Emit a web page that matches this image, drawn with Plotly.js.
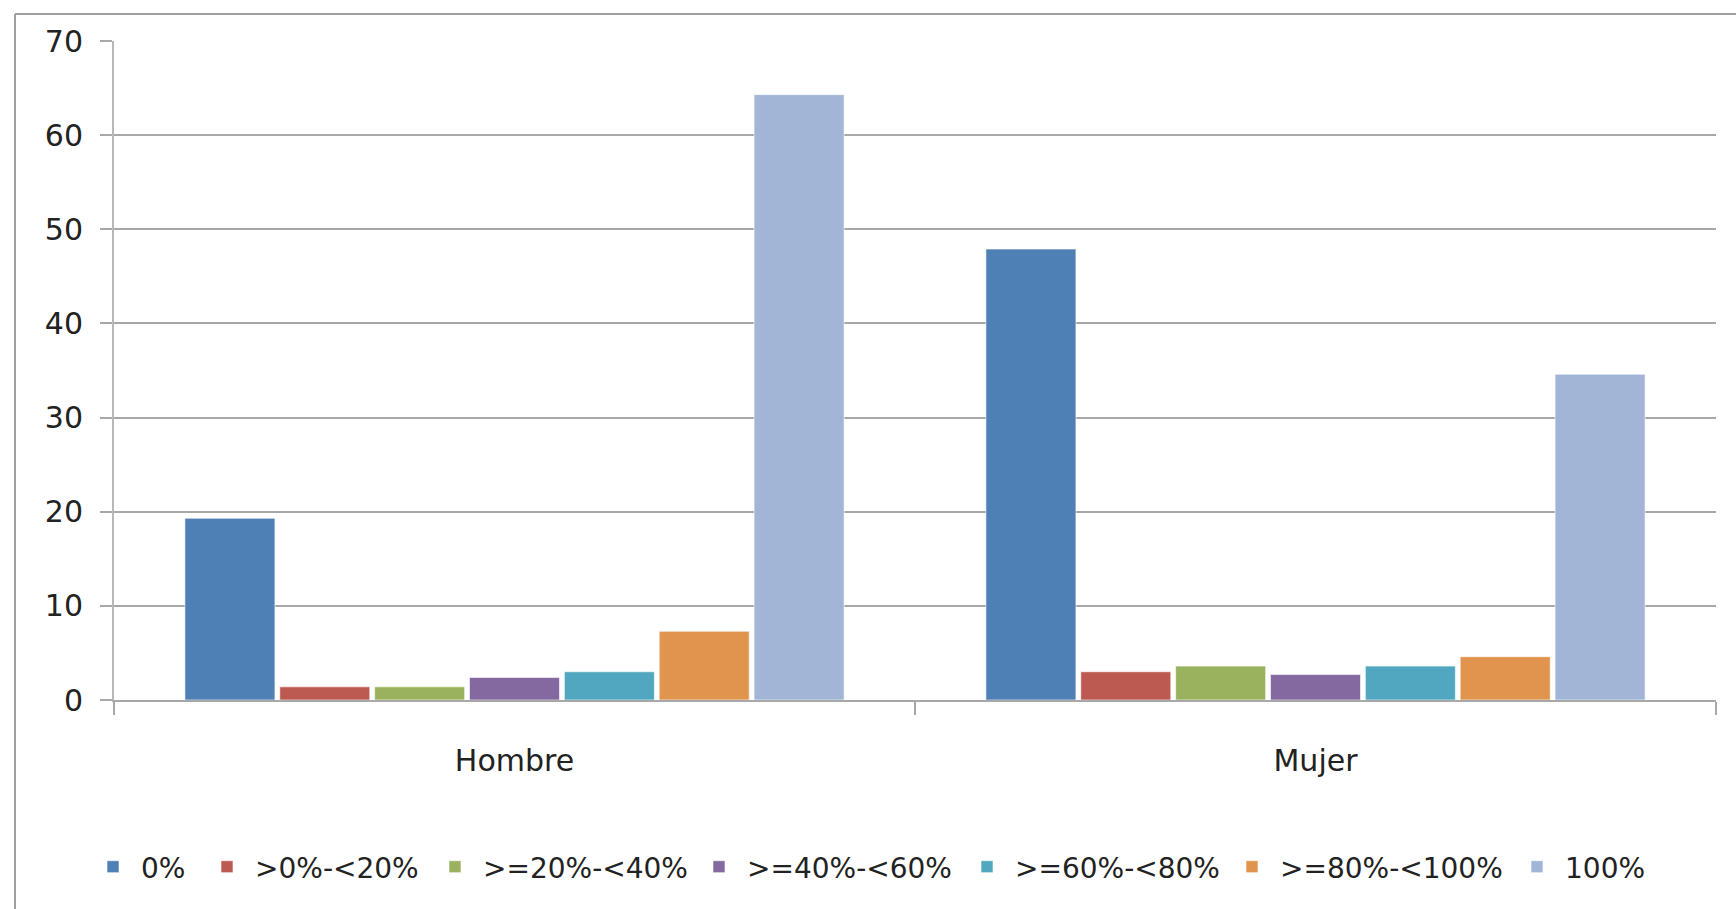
<!DOCTYPE html>
<html>
<head>
<meta charset="utf-8">
<script src="https://cdn.plot.ly/plotly-3.0.1.min.js"></script>
<style>
html, body { margin: 0; padding: 0; background: #fff; }
#chart { width: 1736px; height: 909px; }
</style>
</head>
<body>
<div id="chart"></div>
<script>
const categories = ["Hombre", "Mujer"];
const seriesNames = ["0%", ">0%-<20%", ">=20%-<40%", ">=40%-<60%", ">=60%-<80%", ">=80%-<100%", "100%"];
const hombreValues = [19.3, 1.4, 1.4, 2.4, 3.0, 7.3, 64.3];
const mujerValues = [47.9, 3.0, 3.6, 2.7, 3.6, 4.6, 34.6];
const seriesColors = ["#4e80b5", "#bc5a51", "#9ab25e", "#8369a0", "#51a7bf", "#e0944d", "#a2b5d7"];
const yTickValues = [0, 10, 20, 30, 40, 50, 60, 70];

// plot area in pixels: x 114..1716, y 41..700
const L = 114, R = 1716, T = 41, B = 700;
const px = v => (v - L) / (R - L);
const py = v => (B - v) / (B - T);

// left edge (px) of each legend swatch, one legend box per series
const legendSwatchLeft = [109, 223, 451, 715, 983, 1248, 1533];
const legendIds = seriesNames.map((_, i) => i === 0 ? "legend" : "legend" + (i + 1));

const traces = seriesNames.map((name, i) => ({
  type: "bar",
  name: name,
  x: categories,
  y: [hombreValues[i], mujerValues[i]],
  legend: legendIds[i],
  marker: { color: seriesColors[i], line: { color: "rgba(255,255,255,0.6)", width: 1 } },
  hoverinfo: "x+y+name"
}));

const layout = {
  width: 1736,
  height: 909,
  margin: { l: L, r: 1736 - R, t: T, b: 909 - B, pad: 0 },
  paper_bgcolor: "#ffffff",
  plot_bgcolor: "#ffffff",
  font: { family: "DejaVu Sans, Verdana, sans-serif", size: 30, color: "#222222" },
  barmode: "group",
  bargap: 0.171,
  bargroupgap: 0.051,
  showlegend: true,
  xaxis: {
    type: "category",
    showgrid: false,
    showline: true,
    linecolor: "#a8a8a8",
    linewidth: 2,
    ticks: "outside",
    tickson: "boundaries",
    ticklen: 13,
    tickwidth: 2,
    tickcolor: "#a8a8a8",
    ticklabelstandoff: 33,
    zeroline: false,
    fixedrange: true
  },
  yaxis: {
    range: [0, 70],
    tickvals: yTickValues,
    ticktext: yTickValues.map(String),
    showgrid: true,
    gridcolor: "#a8a8a8",
    gridwidth: 2,
    showline: true,
    linecolor: "#b8b8b8",
    linewidth: 2,
    ticks: "outside",
    ticklen: 12,
    tickwidth: 2,
    tickcolor: "#a8a8a8",
    ticklabelstandoff: 11,
    zeroline: false,
    fixedrange: true
  },
  shapes: [
    { type: "line", xref: "paper", yref: "paper", x0: px(15), x1: px(1745), y0: py(14), y1: py(14),
      line: { color: "#a0a0a0", width: 2 } },
    { type: "line", xref: "paper", yref: "paper", x0: px(15), x1: px(15), y0: py(14), y1: py(920),
      line: { color: "#a0a0a0", width: 2 } }
  ]
};

legendIds.forEach((id, i) => {
  layout[id] = {
    orientation: "h",
    x: px(legendSwatchLeft[i] - 24),
    xanchor: "left",
    y: py(867),
    yanchor: "middle",
    itemwidth: 46,
    bgcolor: "rgba(0,0,0,0)",
    font: { size: 28, color: "#222222" }
  };
});

Plotly.newPlot("chart", traces, layout, { displayModeBar: false, staticPlot: true });
</script>
</body>
</html>
